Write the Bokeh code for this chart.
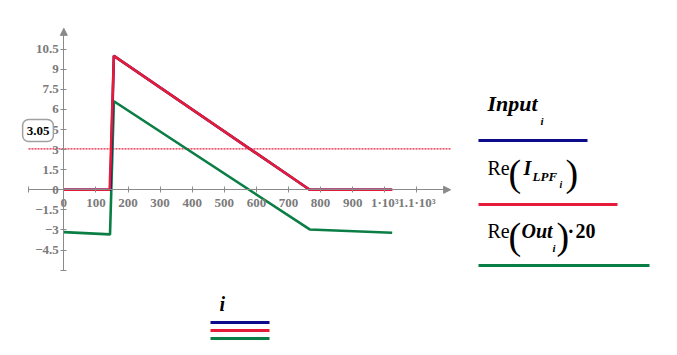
from bokeh.plotting import figure
from bokeh.models import Range1d, FixedTicker, Label, BoxAnnotation, Arrow, NormalHead
from bokeh.embed import file_html
from bokeh.resources import INLINE

# ---- data ----
i_input = [0, 145, 156, 766, 1023]
input_vals = [0, 0, 10, 0, 0]
i_lpf = [0, 143, 156, 766, 1023]
lpf_vals = [0, 0, 10, 0, 0]
i_out = [0, 144, 156, 766, 1023]
out20_vals = [-3.16, -3.33, 6.61, -2.96, -3.21]

x_ticks = [0, 100, 200, 300, 400, 500, 600, 700, 800, 900, 1000, 1100]
x_tick_labels = ["0", "100", "200", "300", "400", "500", "600", "700", "800", "900",
                 "1·10³", "1.1·10³"]
y_ticks = [-4.5, -3, -1.5, 0, 1.5, 3, 4.5, 6, 7.5, 9, 10.5]
y_tick_labels = ["−4.5", "−3", "−1.5", "0", "1.5", "3", "4.5", "6", "7.5", "9", "10.5"]
marker_y = 3.05
x_axis_ends = (-110, 1186)
y_axis_ends = (-6.04, 11.5)

W, H = 677, 355
BLUE = "#0b0b8c"
RED = "#e41c3a"
GREEN = "#0a7e45"
AXIS = "#8a8a8a"

p = figure(width=W, height=H, output_backend="svg", toolbar_location=None,
           x_range=Range1d(-197.2, 1911.8), y_range=Range1d(-12.37, 14.13),
           min_border=0, outline_line_color=None)
p.grid.visible = False

for ax, ticks, labels, bounds in ((p.xaxis[0], x_ticks, x_tick_labels, x_axis_ends),
                                  (p.yaxis[0], y_ticks, y_tick_labels, y_axis_ends)):
    ax.fixed_location = 0
    ax.bounds = bounds
    ax.ticker = FixedTicker(ticks=[bounds[0]] + ticks)
    ov = {t: l for t, l in zip(ticks, labels)}
    ov[bounds[0]] = ""
    ax.major_label_overrides = ov
    ax.major_tick_in = 3
    ax.major_tick_out = 3
    ax.minor_tick_line_color = None
    ax.axis_line_color = AXIS
    ax.major_tick_line_color = AXIS
    ax.major_label_text_color = "#7a7a7a"
    ax.major_label_text_font = "Liberation Serif"
    ax.major_label_text_font_style = "bold"
    ax.major_label_text_font_size = "13px"
p.xaxis.major_label_standoff = 2
p.yaxis.major_label_standoff = 2

# arrow heads
p.add_layout(Arrow(end=NormalHead(size=7, fill_color=AXIS, line_color=AXIS),
                   x_start=x_axis_ends[1], y_start=0, x_end=1205, y_end=0,
                   line_color=AXIS, line_width=1))
p.add_layout(Arrow(end=NormalHead(size=7, fill_color=AXIS, line_color=AXIS),
                   x_start=0, y_start=y_axis_ends[1], x_end=0, y_end=12.05,
                   line_color=AXIS, line_width=1))

# marker line
p.line([x_axis_ends[0], 1205], [marker_y, marker_y], line_color=RED, line_width=1.3,
       line_dash="2 1")

# traces
p.line(i_out, out20_vals, line_color=GREEN, line_width=2.6)
p.line(i_input, input_vals, line_color=BLUE, line_width=2.6)
p.line(i_lpf, lpf_vals, line_color=RED, line_width=2.6)

# marker value box
p.add_layout(Label(text=f"{marker_y:.2f}", x=37.5, y=H - 130, x_units="screen", y_units="screen",
                   text_align="center", text_baseline="middle",
                   text_font="Liberation Serif", text_font_style="bold", text_font_size="13px",
                   text_color="black", background_fill_color="white",
                   border_line_color="#a0a0a0", border_line_width=1.5,
                   border_radius=6, padding=(4, 7)))


def lab(text, x, base, size, style="bold italic"):
    # empirical correction of the rendered alphabetic baseline
    y = base - 0.4 * size
    p.add_layout(Label(text=text, x=x, y=H - y, x_units="screen", y_units="screen",
                       text_baseline="alphabetic", text_align="left",
                       text_font="Liberation Serif", text_font_style=style,
                       text_font_size=f"{size}px", text_color="black"))


def bar(x0, x1, ytop, color):
    p.add_layout(BoxAnnotation(left=x0, right=x1, top=H - ytop + 1.5, bottom=H - ytop - 1.5,
                               left_units="screen", right_units="screen",
                               top_units="screen", bottom_units="screen",
                               fill_color=color, fill_alpha=1, line_alpha=0))


# legend (right)
lab("Input", 487, 112, 22)
lab("i", 540, 125, 11)
bar(478, 587, 140, BLUE)

lab("Re", 487, 175, 20, "normal")
lab("(", 508, 188, 38, "normal")
lab("I", 523, 175, 20)
lab("LPF", 532, 181, 13)
lab("i", 559, 188, 10)
lab(")", 565, 188, 38, "normal")
bar(478, 617, 204, RED)

lab("Re", 487, 238, 20, "normal")
lab("(", 508, 251, 38, "normal")
lab("Out", 521, 238, 20)
lab("i", 552, 252, 11)
lab(")", 556, 251, 38, "normal")
lab("·", 567, 238, 20, "bold")
lab("20", 575, 238, 20, "bold")
bar(478, 649, 265, GREEN)

# legend (bottom)
lab("i", 219, 311, 20)
bar(210, 269, 322, BLUE)
bar(210, 269, 330, RED)
bar(210, 269, 338, GREEN)

open("out.html", "w").write(file_html(p, INLINE))
